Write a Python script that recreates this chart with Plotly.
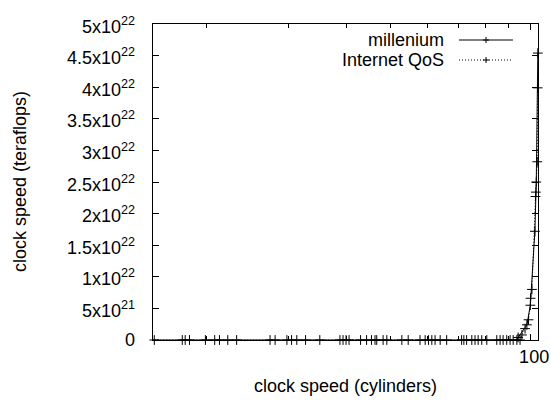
import plotly.graph_objects as go

# ---- data ----
mill_x = [15.3, 17.7, 18.35, 20.8, 22.2, 27.4, 29.8, 31.3, 35.1, 38.8, 40.0, 43.0,
          45.4, 46.6, 49.0, 54.5, 59.3, 61.3, 63.9, 71.1, 72.9, 76.0, 78.6, 84.7,
          87.4, 90.5, 93.6, 94.2, 98.4, 100.1, 102.4, 103.1, 103.9]
mill_y = [0] * 27 + [4e20, 2.4e21, 5.5e21, 1.72e22, 2.5e22, 4.54e22]

qos_x = [15.4, 17.96, 19.86, 21.3, 23.2, 28.1, 30.5, 32.7, 39.4, 40.6, 44.3, 46.2,
         48.1, 52.8, 57.8, 60.3, 62.3, 66.0, 71.9, 74.8, 77.2, 80.6, 86.1, 89.0,
         91.9, 95.1, 96.0, 97.5, 99.2, 100.2, 100.9, 102.7, 102.9, 103.6, 103.8]
qos_y = [0] * 26 + [8e20, 1.8e21, 3.2e21, 6.6e21, 8.0e21, 2.27e22, 2.34e22, 2.82e22, 3.99e22]

ytick_vals = [0, 5e21, 1e22, 1.5e22, 2e22, 2.5e22, 3e22, 3.5e22, 4e22, 4.5e22, 5e22]
ytick_text = ["0", "5x10<sup>21</sup>", "1x10<sup>22</sup>", "1.5x10<sup>22</sup>",
              "2x10<sup>22</sup>", "2.5x10<sup>22</sup>", "3x10<sup>22</sup>",
              "3.5x10<sup>22</sup>", "4x10<sup>22</sup>", "4.5x10<sup>22</sup>",
              "5x10<sup>22</sup>"]
xminor_vals = [20, 30, 40, 50, 60, 70, 80, 90]
xtick_vals = [100]
xtick_text = ["100"]

series_names = ["millenium", "Internet QoS"]

FONT = "Liberation Sans, Arial, sans-serif"
fig = go.Figure()
fig.add_trace(go.Scatter(x=qos_x, y=qos_y, mode="lines+markers", name=series_names[1],
                         line=dict(color="black", width=1, dash="1px,2px"),
                         marker=dict(symbol="cross-thin", size=7, line=dict(color="black", width=1)),
                         cliponaxis=False, showlegend=False))
fig.add_trace(go.Scatter(x=mill_x, y=mill_y, mode="lines+markers", name=series_names[0],
                         line=dict(color="black", width=1),
                         marker=dict(symbol="cross-thin", size=7, line=dict(color="black", width=1)),
                         cliponaxis=False, showlegend=False))

L, R, T, B = 153, 13, 24, 63
W, H = 551, 403
fig.update_layout(
    width=W, height=H, margin=dict(l=L, r=R, t=T, b=B, autoexpand=False),
    paper_bgcolor="white", plot_bgcolor="white",
    font=dict(family=FONT, size=18, color="black"),
    showlegend=False,
)
fig.update_xaxes(type="log", range=[1.1847, 2.017], showgrid=False, zeroline=False,
                 showline=True, linecolor="black", linewidth=1, mirror="ticks",
                 ticks="inside", ticklen=6, tickcolor="black", automargin=False,
                 tickvals=xtick_vals, ticktext=xtick_text, ticklabelshift=4,
                 minor=dict(tickvals=xminor_vals, ticks="inside", ticklen=4,
                            tickcolor="black", showgrid=False))
fig.update_yaxes(range=[0, 5e22], showgrid=False, zeroline=False,
                 showline=True, linecolor="black", linewidth=1, mirror="ticks",
                 ticks="inside", ticklen=6, tickcolor="black", automargin=False,
                 tickvals=ytick_vals, showticklabels=False)

pw, ph = W - L - R, H - T - B
def px2paper(px, py):
    return (px - L) / pw, 1 - (py - T) / ph

# y tick labels, right-aligned like gnuplot
lab_x, _ = px2paper(137, 0)
for v, t in zip(ytick_vals, ytick_text):
    fig.add_annotation(text=t, xref="paper", yref="y", x=lab_x, y=v,
                       xanchor="right", yanchor="middle", showarrow=False,
                       yshift=-1 if "sup" in t else 0, font=dict(size=18))

# axis titles
ax, ay = px2paper(345.5, 386)
fig.add_annotation(text="clock speed (cylinders)", xref="paper", yref="paper",
                   x=ax, y=ay, showarrow=False,
                   xanchor="center", yanchor="middle", font=dict(size=18))
bx, by = px2paper(20, 182)
fig.add_annotation(text="clock speed (teraflops)", xref="paper", yref="paper",
                   x=bx, y=by, showarrow=False, textangle=-90,
                   xanchor="center", yanchor="middle", font=dict(size=18))

# legend (gnuplot style: text right-aligned, sample to the right)
for i, (name, dash) in enumerate(zip(series_names, ["solid", "1px,2px"])):
    yy = 40 + 20 * i
    tx, ty = px2paper(446, yy)
    fig.add_annotation(text=name, xref="paper", yref="paper", x=tx, y=ty,
                       xanchor="right", yanchor="middle", showarrow=False, font=dict(size=18))
    x0, y0 = px2paper(459, yy)
    x1, _ = px2paper(513, yy)
    fig.add_shape(type="line", xref="paper", yref="paper", x0=x0, x1=x1, y0=y0, y1=y0,
                  line=dict(color="black", width=1, dash=dash))
    cx, _ = px2paper(486, yy)
    cxa, cya = px2paper(483, yy - 3)
    cxb, cyb = px2paper(489, yy + 3)
    fig.add_shape(type="line", xref="paper", yref="paper", x0=cxa, x1=cxb, y0=y0, y1=y0,
                  line=dict(color="black", width=1))
    fig.add_shape(type="line", xref="paper", yref="paper", x0=cx, x1=cx, y0=cya, y1=cyb,
                  line=dict(color="black", width=1))

fig.write_html("out.html")
